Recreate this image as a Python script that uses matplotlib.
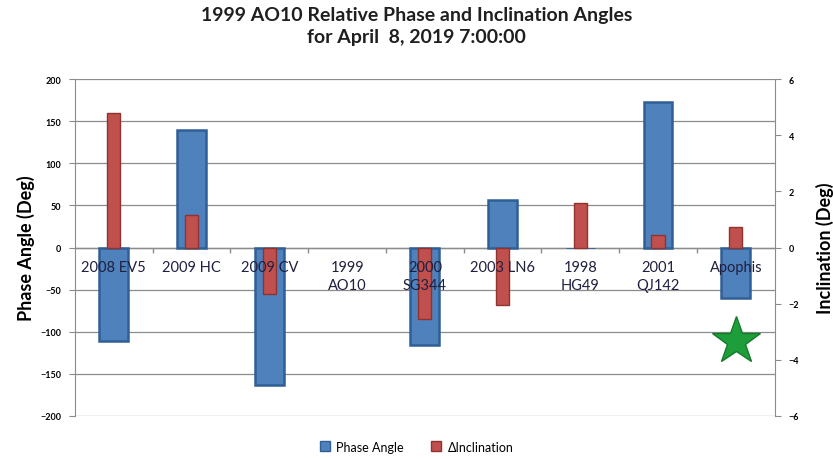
import matplotlib.pyplot as plt
import numpy as np

plt.rcParams['font.family'] = ['Lato', 'DejaVu Sans']

names = ['2008 EV5', '2009 HC', '2009 CV', '1999\nAO10', '2000\nSG344',
         '2003 LN6', '1998\nHG49', '2001\nQJ142', 'Apophis']
phase = [-111, 140, -163, 0, -116, 56, -1, 173, -60]
incl = [4.8, 1.15, -1.65, 0, -2.55, -2.05, 1.58, 0.46, 0.72]
star_at = ('Apophis', -111)

x = np.arange(len(names))
grey = '#8c8c8c'

fig = plt.figure(figsize=(8.33, 4.6), dpi=100)
ax = fig.add_axes([0.090, 0.0935, 0.840, 0.7325])
ax2 = ax.twinx()

ax.set_xlim(-0.5, len(names) - 0.5)
ax.set_ylim(-200, 200)
ax2.set_ylim(-6, 6)
ax.set_yticks(np.arange(-200, 201, 50))
ax2.set_yticks(np.arange(-6, 7, 2))

ax.grid(axis='y', color=grey, lw=0.9)
ax.set_axisbelow(True)
ax.set_xticks([])

# no outline on empty bars
lw_p = [1.8 if abs(v) > 2 else 0.6 if v else 0 for v in phase]
lw_i = [1.0 if v else 0 for v in incl]
ax.bar(x, phase, width=0.37, color='#4f81bd', edgecolor='#2f5f95', lw=lw_p, zorder=2)
ax2.bar(x, incl, width=0.17, color='#c0504d', edgecolor='#8e3330', lw=lw_i, zorder=3)

ax.axhline(0, color=grey, lw=1.0, zorder=1)
ax.vlines(x[:-1] + 0.5, -7, 0, color=grey, lw=1.0, zorder=1)

for xi, nm in zip(x, names):
    ax2.text(xi, -0.45, nm, ha='center', va='top', fontsize=10.5,
             color='#1f1f3f', linespacing=1.35, zorder=5)

ax.plot(names.index(star_at[0]), star_at[1], marker='*', ms=36,
        color='#1e9e3a', mec='#157a2c', zorder=4)

for a in (ax, ax2):
    for s in a.spines.values():
        s.set_visible(False)
    a.tick_params(axis='y', length=4, color=grey, labelsize=6.5, pad=6)
ax.spines['left'].set_visible(True)
ax.spines['left'].set_color(grey)
ax2.spines['right'].set_visible(True)
ax2.spines['right'].set_color(grey)
for lbl in ax.get_yticklabels() + ax2.get_yticklabels():
    lbl.set_fontweight('bold')

ax.set_ylabel('Phase Angle (Deg)', fontsize=13, fontweight='bold', labelpad=4)
ax2.set_ylabel('Inclination (Deg)', fontsize=13, fontweight='bold', labelpad=12)

fig.suptitle('1999 AO10 Relative Phase and Inclination Angles\nfor April  8, 2019 7:00:00',
             x=0.5, y=0.985, fontsize=14, fontweight='bold', color='#1f1f1f', linespacing=1.35)

h1 = plt.Rectangle((0, 0), 1, 1, color='#4f81bd', ec='#2f5f95')
h2 = plt.Rectangle((0, 0), 1, 1, color='#c0504d', ec='#8e3330')
fig.legend([h1, h2], ['Phase Angle', 'ΔInclination'], loc='center',
           bbox_to_anchor=(0.5, 0.027), ncol=2, frameon=False, fontsize=9,
           handlelength=0.8, handleheight=0.8, columnspacing=2.2, handletextpad=0.5)

fig.savefig('out.png', dpi=100)
